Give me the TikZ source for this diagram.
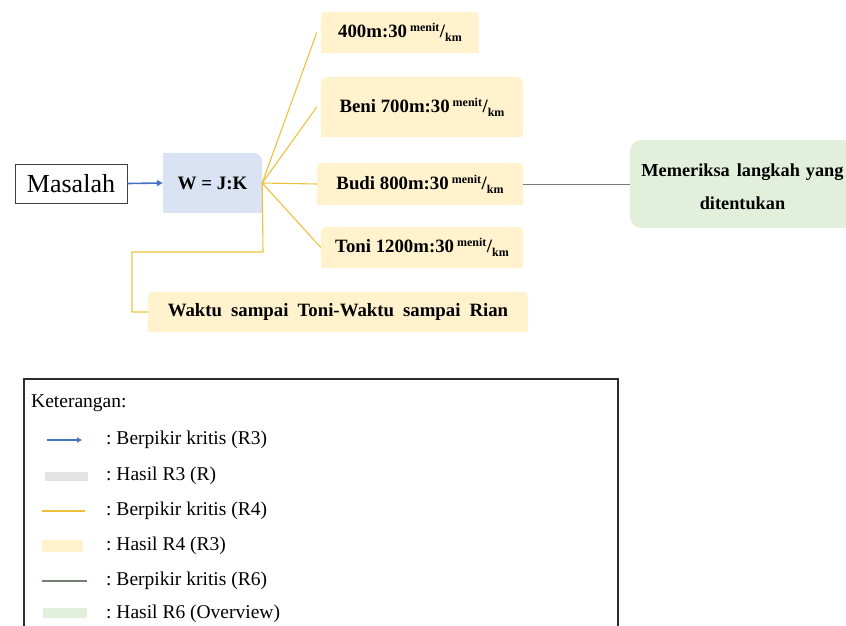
\documentclass[tikz,border=0pt]{standalone}
\usepackage{fontspec}
\setmainfont{Liberation Serif}
\usetikzlibrary{arrows.meta,backgrounds}
\definecolor{bluearr}{HTML}{4472C4}
\definecolor{wfill}{HTML}{DAE3F3}
\definecolor{yline}{HTML}{EEC13A}
\definecolor{yfill}{HTML}{FFF2CC}
\definecolor{gline}{HTML}{728072}
\definecolor{gfill}{HTML}{E2EFDA}
\definecolor{grayfill}{HTML}{E3E3E3}
\newcommand\unitmk{\hspace{3pt}\raisebox{6pt}{\fontsize{12}{12}\selectfont menit}\hspace{0.5pt}/\raisebox{-4pt}{\fontsize{12}{12}\selectfont km}}
\newcommand\topfill[3]{%
  \fill[#2, rounded corners=#3] (#1.south west) rectangle (#1.north east);
  \fill[#2] (#1.south west) rectangle (#1.east);}
\frenchspacing
\begin{document}
\begin{tikzpicture}[x=1pt,y=-1pt,
  ybox/.style={inner sep=0pt, font=\fontsize{18.8}{20}\selectfont\bfseries},
  legtext/.style={anchor=west, inner sep=0pt, font=\fontsize{19.5}{22}\selectfont},
  yconn/.style={draw=yline, line width=1.1pt},
]
\useasboundingbox (0,0) rectangle (846,625);
\clip (0,0) rectangle (846,625);

% main nodes
\node[draw={rgb,255:red,64;green,64;blue,64}, line width=0.8pt, fill=white, minimum width=112pt, minimum height=39pt, inner sep=0pt, font=\fontsize{26}{28}\selectfont] (mas) at (71,183.5) {Masalah};
\node[minimum width=99pt, minimum height=60pt, inner sep=0pt, font=\fontsize{19}{20}\selectfont\bfseries] (w) at (212.5,183) {W = J:K};
\node[ybox, minimum width=158pt, minimum height=41pt] (b400) at (400,32.5) {400m:30\unitmk};
\node[ybox, minimum width=202pt, minimum height=60pt] (beni) at (422,107) {Beni 700m:30\unitmk};
\node[ybox, minimum width=206pt, minimum height=42pt] (budi) at (420,184) {Budi 800m:30\unitmk};
\node[ybox, minimum width=202pt, minimum height=41pt] (toni) at (422,247.5) {Toni 1200m:30\unitmk};
\node[ybox, minimum width=380pt, minimum height=40pt] (wak) at (338,312) {Waktu\hspace{9pt}sampai\hspace{9pt}Toni-Waktu\hspace{9pt}sampai\hspace{9pt}Rian};
\node[minimum width=216pt, minimum height=88pt, inner sep=0pt] (green) at (738,184) {};
\node[inner sep=0pt, align=center, font=\fontsize{18.3}{33}\selectfont\bfseries] (gtext) at (742.5,186.5) {Memeriksa\hspace{7pt}langkah\hspace{6pt}yang\\ditentukan};

\begin{scope}[on background layer]
  \fill[wfill, rounded corners=9pt] (w.south west) rectangle (w.north east);
  \fill[wfill] (w.south west) rectangle (w.east);
  \fill[wfill] (w.south west) rectangle (w.north);
  \topfill{b400}{yfill}{6pt}
  \topfill{beni}{yfill}{7pt}
  \topfill{budi}{yfill}{6pt}
  \topfill{toni}{yfill}{6pt}
  \topfill{wak}{yfill}{6pt}
  \fill[gfill, rounded corners=12pt] ([xshift=40pt]green.south west) rectangle ([xshift=40pt]green.north east);
  \fill[gfill, rounded corners=12pt] (green.south west) rectangle (green.north east);
\end{scope}

% connectors
\draw[bluearr, line width=1.6pt, -{Triangle[length=6pt,width=6pt]}] (mas.east) -- (w.west);
\draw[yconn] (w.east) -- ([xshift=-4pt]b400.west);
\draw[yconn] (w.east) -- ([xshift=-4pt]beni.west);
\draw[yconn] (w.east) -- (budi.west);
\draw[yconn] (w.east) -- (toni.west);
\coordinate (c1) at (263,252);
\coordinate (c2) at (132,252);
\draw[yconn] (w.east) -- (c1) -- (c2) |- (wak.west);
\draw[gline, line width=0.9pt] (budi.east) -- (green.west);

% legend
\draw[draw={rgb,255:red,45;green,45;blue,45}, line width=1.6pt] (24,379) rectangle (618,650);
\node[legtext] (kt) at (31,403) {Keterangan:};
\node[legtext] (l1) at (106,440) {: Berpikir kritis (R3)};
\node[legtext] (l2) at (106,476) {: Hasil R3 (R)};
\node[legtext] (l3) at (106,511) {: Berpikir kritis (R4)};
\node[legtext] (l4) at (106,546) {: Hasil R4 (R3)};
\node[legtext] (l5) at (106,581) {: Berpikir kritis (R6)};
\node[legtext] (l6) at (106,614) {: Hasil R6 (Overview)};
\draw[bluearr, line width=1.6pt, -{Triangle[length=5pt,width=5pt]}] (47,440) -- (82,440);
\fill[grayfill] (45,472) rectangle (88,481);
\draw[yconn] (42,511) -- (85,511);
\fill[yfill] (42,540) rectangle (83,552);
\draw[gline, line width=1.1pt] (42,581) -- (87,581);
\fill[gfill] (43,608) rectangle (87,618);
\end{tikzpicture}
\end{document}
